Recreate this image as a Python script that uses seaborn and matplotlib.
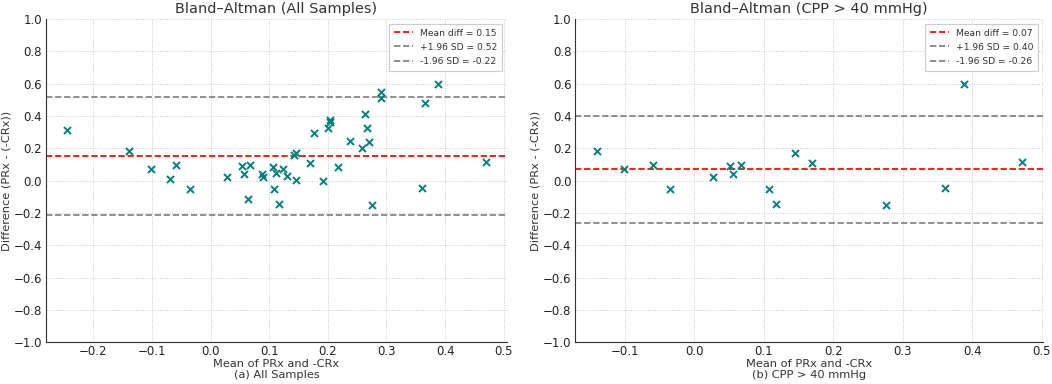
import matplotlib
matplotlib.use("Agg")
import matplotlib.pyplot as plt
import seaborn as sns
import pandas as pd

# ---- data ----
all_mean = [-0.245, -0.139, -0.101, -0.070, -0.059, -0.035, 0.028, 0.053, 0.057, 0.067,
            0.064, 0.087, 0.089, 0.106, 0.111, 0.108, 0.124, 0.130, 0.117, 0.143,
            0.145, 0.145, 0.169, 0.176, 0.192, 0.201, 0.203, 0.204, 0.217, 0.238,
            0.259, 0.263, 0.266, 0.271, 0.276, 0.291, 0.291, 0.361, 0.366, 0.388, 0.470]
all_diff = [0.310, 0.185, 0.070, 0.010, 0.098, -0.053, 0.020, 0.090, 0.038, 0.098,
            -0.111, 0.040, 0.020, 0.085, 0.045, -0.050, 0.070, 0.030, -0.146, 0.160,
            0.170, 0.002, 0.106, 0.292, -0.004, 0.325, 0.362, 0.375, 0.085, 0.242,
            0.201, 0.412, 0.327, 0.238, -0.150, 0.546, 0.510, -0.044, 0.479, 0.599, 0.116]

cpp_mean = [-0.140, -0.101, -0.059, -0.035, 0.027, 0.052, 0.056, 0.067, 0.108, 0.117,
            0.145, 0.169, 0.276, 0.361, 0.388, 0.471]
cpp_diff = [0.185, 0.070, 0.098, -0.053, 0.020, 0.090, 0.038, 0.098, -0.050, -0.146,
            0.168, 0.106, -0.150, -0.044, 0.599, 0.116]

# mean difference, +1.96 SD, -1.96 SD
all_lines = [0.151, 0.517, -0.216]
cpp_lines = [0.070, 0.400, -0.260]

titles = ["Bland\u2013Altman (All Samples)", "Bland\u2013Altman (CPP > 40 mmHg)"]
sublabels = ["(a) All Samples", "(b) CPP > 40 mmHg"]
yticks = [-1.0, -0.8, -0.6, -0.4, -0.2, 0.0, 0.2, 0.4, 0.6, 0.8, 1.0]

sns.set_style("whitegrid")
plt.rcParams["font.family"] = ["DejaVu Sans"]

fig = plt.figure(figsize=(1052 / 82, 384 / 82), dpi=82)
axes = [fig.add_axes([0.0437, 0.109, 0.4383, 0.8415]),
        fig.add_axes([0.547, 0.109, 0.4445, 0.8415])]

datasets = [(all_mean, all_diff, all_lines), (cpp_mean, cpp_diff, cpp_lines)]

for ax, (xm, yd, lines), title, sub in zip(axes, datasets, titles, sublabels):
    df = pd.DataFrame({"mean": xm, "diff": yd})
    sns.scatterplot(data=df, x="mean", y="diff", ax=ax, marker="x", color="#007f7f",
                    s=38, linewidth=1.7, zorder=3)
    ax.axhline(lines[0], color="red", linestyle="--", linewidth=1.5,
               label=f"Mean diff = {lines[0]:.2f}", zorder=2)
    ax.axhline(lines[1], color="gray", linestyle="--", linewidth=1.5,
               label=f"+1.96 SD = {lines[1]:.2f}", zorder=2)
    ax.axhline(lines[2], color="gray", linestyle="--", linewidth=1.5,
               label=f"-1.96 SD = {lines[2]:.2f}", zorder=2)
    ax.set_ylim(-1.0, 1.0)
    ax.set_yticks(yticks)
    ax.set_title(title, fontsize=12.7, color="#333333", pad=5)
    ax.set_xlabel("Mean of PRx and -CRx\n" + sub, fontsize=10, color="#333333",
                  labelpad=1, linespacing=1.15)
    ax.set_ylabel("Difference (PRx - (-CRx))", fontsize=10, color="#333333", labelpad=2)
    ax.grid(True, linestyle=":", color="#c4c4c4", linewidth=0.8)
    for side in ["top", "right"]:
        ax.spines[side].set_visible(False)
    for side in ["left", "bottom"]:
        ax.spines[side].set_visible(True)
        ax.spines[side].set_color("#333333")
        ax.spines[side].set_linewidth(1.0)
    ax.tick_params(axis="both", direction="in", length=4, width=0.8, colors="#333333",
                   labelsize=10.3, labelcolor="#222222")
    ax.tick_params(axis="x", pad=2.5)
    ax.tick_params(axis="y", pad=3.5)
    leg = ax.legend(loc="upper right", fontsize=8.05, frameon=True, framealpha=1.0,
                    edgecolor="#cccccc", fancybox=False, borderpad=0.55, handlelength=2.0,
                    labelspacing=0.55)
    for t in leg.get_texts():
        t.set_color("#333333")

fig.savefig("out.png", dpi=82)
